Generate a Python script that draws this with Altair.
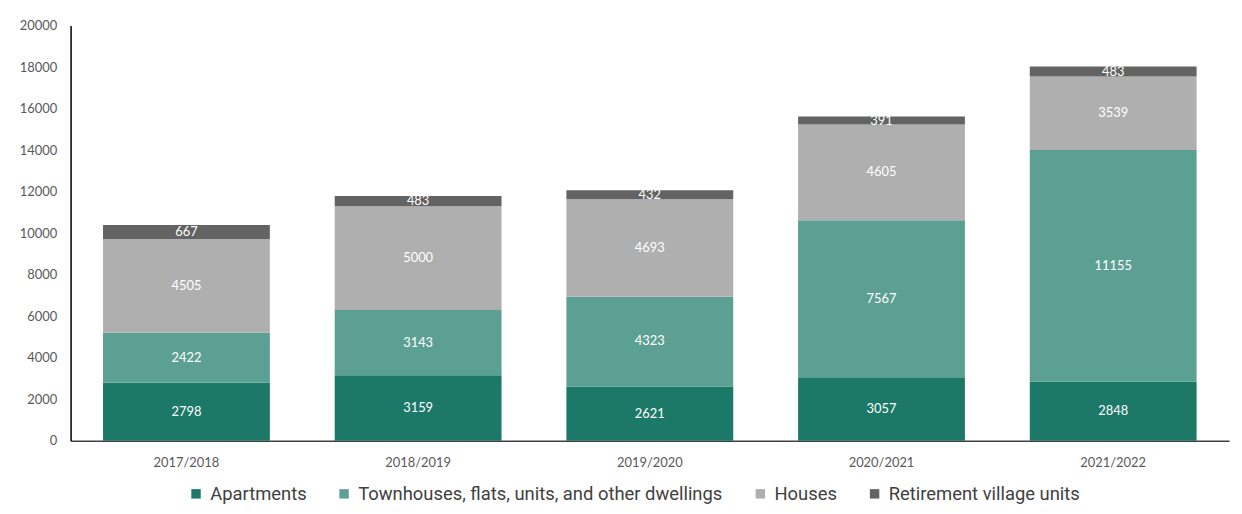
import altair as alt
import pandas as pd

years = ["2017/2018", "2018/2019", "2019/2020", "2020/2021", "2021/2022"]
series = ["Apartments", "Townhouses, flats, units, and other dwellings", "Houses", "Retirement village units"]
apartments = [2798, 3159, 2621, 3057, 2848]
townhouses = [2422, 3143, 4323, 7567, 11155]
houses = [4505, 5000, 4693, 4605, 3539]
retirement = [667, 483, 432, 391, 483]
colors = ["#1c7867", "#5ca093", "#afafaf", "#636363"]
y_ticks = list(range(0, 20001, 2000))

rows = []
for i, y in enumerate(years):
    for k, (name, vals) in enumerate(zip(series, [apartments, townhouses, houses, retirement])):
        rows.append({"year": y, "series": name, "order": k, "value": vals[i]})
df = pd.DataFrame(rows)

base = alt.Chart(df).transform_stack(
    stack="value", groupby=["year"], as_=["y0", "y1"],
    sort=[alt.SortField("order", order="ascending")]
).transform_calculate(mid="(datum.y0 + datum.y1) / 2")

xenc = alt.X("year:N", sort=years, title=None,
             scale=alt.Scale(paddingInner=0.28, paddingOuter=0.14),
             axis=alt.Axis(labelAngle=0, ticks=False, labelPadding=16, labelFontSize=13,
                           labelColor="#595959", domainColor="#404040", domainWidth=1.5,
                           labelFont="Lato"))

bars = base.mark_bar().encode(
    x=xenc,
    y=alt.Y("y0:Q", title=None, scale=alt.Scale(domain=[0, 20000]),
            axis=alt.Axis(values=y_ticks, format="d", grid=False, ticks=False, labelPadding=14,
                          labelFontSize=13, labelColor="#595959", domainColor="#000000",
                          domainWidth=1.5, labelFont="Lato")),
    y2="y1:Q",
    color=alt.Color("series:N", sort=series,
                    scale=alt.Scale(domain=series, range=colors),
                    legend=alt.Legend(title=None, orient="none", direction="horizontal",
                                      legendX=117, legendY=462, symbolType="square",
                                      symbolSize=90, symbolStrokeWidth=0, labelFontSize=18.5,
                                      labelColor="#404040", labelFont="Roboto",
                                      columnPadding=28, labelOffset=5, labelLimit=500)),
)

labels = base.mark_text(color="white", fontSize=13, font="Lato", baseline="middle").encode(
    x=alt.X("year:N", sort=years),
    y=alt.Y("mid:Q"),
    text=alt.Text("value:Q", format="d"),
)

chart = alt.layer(bars, labels).properties(
    width=1166, height=418,
    autosize=alt.AutoSizeParams(type="none"),
    padding={"left": 63, "top": 16, "right": 5, "bottom": 72},
).configure_view(stroke=None)

chart.save("out.html", embed_options={"renderer": "svg", "actions": False})
